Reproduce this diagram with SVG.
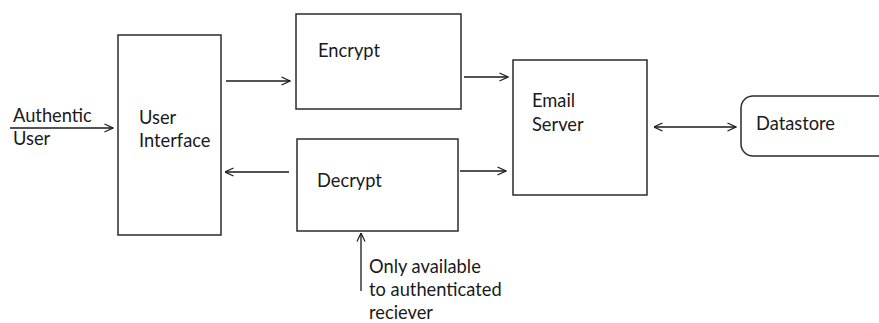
<svg xmlns="http://www.w3.org/2000/svg" width="879" height="323" viewBox="0 0 879 323">
<style>
.box{fill:#fff;stroke:#2b2b2b;stroke-width:1.5}
.ln{stroke:#1a1a1a;stroke-width:1.3;fill:none}
text{font-family:Lato,"Open Sans","Liberation Sans",sans-serif;font-size:18.3px;fill:#1a1a1a}
</style>
<defs>
<marker id="ah" viewBox="0 0 10 10" refX="9.5" refY="5" markerWidth="10" markerHeight="10" markerUnits="userSpaceOnUse" orient="auto-start-reverse">
<path d="M1,1 L9.5,5 L1,9" fill="none" stroke="#1a1a1a" stroke-width="1.2"/>
</marker>
</defs>
<rect width="879" height="323" fill="#fff"/>
<g id="connectors">
<line class="ln" x1="10" y1="128" x2="113" y2="128" marker-end="url(#ah)"/>
<line class="ln" x1="226" y1="81" x2="290" y2="81" marker-end="url(#ah)"/>
<line class="ln" x1="289" y1="172" x2="225" y2="172" marker-end="url(#ah)"/>
<line class="ln" x1="464" y1="77" x2="508" y2="77" marker-end="url(#ah)"/>
<line class="ln" x1="460" y1="171" x2="506" y2="171" marker-end="url(#ah)"/>
<line class="ln" x1="654" y1="127" x2="736" y2="127" marker-start="url(#ah)" marker-end="url(#ah)"/>
<line class="ln" x1="361" y1="291" x2="361" y2="233" marker-end="url(#ah)"/>
</g>
<g id="authentic-user">
<text x="13" y="122">Authentic</text>
<text x="13" y="145">User</text>
</g>
<g id="user-interface">
<rect class="box" x="118" y="35" width="103" height="200"/>
<text x="139" y="124">User</text>
<text x="139" y="147">Interface</text>
</g>
<g id="encrypt">
<rect class="box" x="296" y="14" width="165" height="95"/>
<text x="318" y="57">Encrypt</text>
</g>
<g id="decrypt">
<rect class="box" x="297" y="139" width="161" height="92"/>
<text x="317" y="187">Decrypt</text>
</g>
<g id="email-server">
<rect class="box" x="513" y="60" width="134" height="135"/>
<text x="532" y="107">Email</text>
<text x="532" y="131">Server</text>
</g>
<g id="datastore">
<rect class="box" x="741" y="96" width="160" height="60" rx="12"/>
<text x="756" y="130">Datastore</text>
</g>
<g id="note">
<text x="369" y="273">Only available</text>
<text x="369" y="296">to authenticated</text>
<text x="369" y="319">reciever</text>
</g>
</svg>
